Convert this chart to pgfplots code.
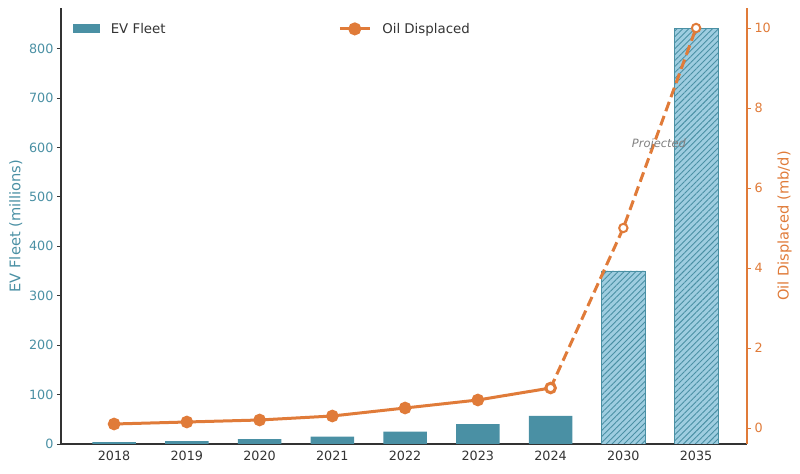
\documentclass[border=0pt]{standalone}
\usepackage{fontspec}
\setmainfont{DejaVu Sans}
\usepackage{pgfplots}
\pgfplotsset{compat=1.18}
\usetikzlibrary{patterns.meta}

\definecolor{evteal}{HTML}{4A90A4}
\definecolor{evlight}{HTML}{9ECDE0}
\definecolor{oilorange}{HTML}{E07B39}
\definecolor{spine}{HTML}{333333}
\definecolor{txt}{HTML}{333333}

\pgfplotsset{
  base/.style={
    scale only axis, width=686bp, height=436bp,
    at={(0,0)}, anchor=south west,
    xmin=-0.73, xmax=8.70,
    tick align=outside, major tick length=4bp,
    /pgf/number format/assume math mode=true,
    ticklabel style={font=\fontsize{12.8}{15}\selectfont},
    label style={font=\fontsize{14.7}{17}\selectfont},
    legend style={draw=none, fill=none, text=txt,
      font=\fontsize{13.4}{16}\selectfont,
      legend cell align=left, inner sep=2bp,
      /tikz/every odd column/.append style={column sep=9bp}},
  },
}

\begin{document}
\begin{tikzpicture}
\begin{axis}[base,
  axis x line*=bottom, axis y line*=left,
  axis line style={spine, line width=1.1pt},
  ymin=0, ymax=882,
  ytick={0,100,...,800},
  xtick={0,...,8},
  xticklabels={2018,2019,2020,2021,2022,2023,2024,2030,2035},
  x tick label style={text=txt},
  xtick style={draw=none},
  y tick label style={text=evteal},
  ytick style={spine, line width=0.8pt},
  ylabel={EV Fleet (millions)}, ylabel style={text=evteal},
  legend style={at={(0.014,0.975)}, anchor=north west},
  legend image code/.code={\fill[evteal] (0bp,-4.5bp) rectangle (27bp,4.5bp);},
]
\addplot[ybar, bar width=0.6, fill=evteal, draw=none]
  coordinates {(0,4) (1,6) (2,10) (3,15) (4,25) (5,40) (6,57)};
\addlegendentry{EV Fleet}
\addplot[ybar, bar width=0.6, fill=evlight, draw=evteal, line width=0.6pt,
  postaction={pattern={Lines[angle=45, distance=4.2bp, line width=0.9bp]},
              pattern color=evteal},
  forget plot]
  coordinates {(7,350) (8,840)};
\end{axis}

\begin{axis}[base,
  axis x line=none, axis y line*=right,
  axis line style={oilorange, line width=1.1pt},
  ymin=-0.4, ymax=10.5,
  ytick={0,2,...,10},
  y tick label style={text=oilorange},
  ytick style={oilorange, line width=0.8pt},
  ylabel={Oil Displaced (mb/d)}, ylabel style={text=oilorange},
  legend style={at={(0.401,0.975)}, anchor=north west},
  legend image code/.code={
    \draw[oilorange, line width=3bp] (0bp,0bp) -- (30bp,0bp);
    \fill[oilorange] (15bp,0bp) circle (5bp);},
]
\addplot[oilorange, line width=3bp, mark=*, mark size=4.8bp,
  mark options={fill=oilorange, draw=none}]
  coordinates {(0,0.1) (1,0.15) (2,0.2) (3,0.3) (4,0.5) (5,0.7) (6,1.0)};
\addlegendentry{Oil Displaced}
\addplot[oilorange, line width=3bp, dash pattern=on 10bp off 5bp,
  mark=*, mark size=4.2bp,
  mark options={fill=white, draw=oilorange, solid, line width=2bp},
  forget plot]
  coordinates {(6,1.0) (7,5.0) (8,10.0)};
\node[text=gray, font=\fontsize{11.5}{14}\selectfont\itshape]
  at (axis cs:7.49,7.1) {Projected};
\end{axis}
\path (-61bp,-30bp) rectangle (739bp,444bp);
\end{tikzpicture}
\end{document}
